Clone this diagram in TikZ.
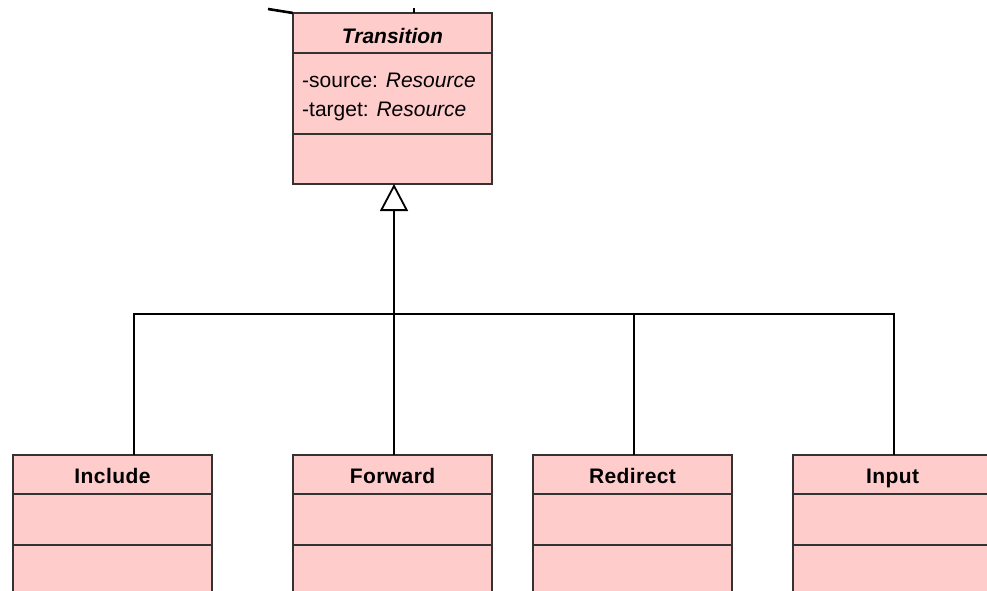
\documentclass[tikz,border=0pt]{standalone}
\usepackage{fontspec}
\setmainfont{Liberation Sans}
\usetikzlibrary{arrows.meta,calc}
\definecolor{classfill}{HTML}{FFCCCC}
\definecolor{classline}{HTML}{333333}
\tikzset{
  classbox/.style={draw=classline, fill=classfill, line width=2pt, anchor=north west,
    minimum width=199pt, inner sep=0pt, outer sep=0pt},
  sep/.style={draw=classline, line width=2pt},
  conn/.style={draw=black, line width=1.8pt},
  gen/.style={conn, -{Triangle[open, length=27pt, width=28pt, line width=1.8pt]}},
  title/.style={font=\fontsize{21}{24}\selectfont\bfseries\addfontfeature{LetterSpace=2},
    inner sep=0pt, anchor=base},
  attr/.style={font=\fontsize{21}{24}\selectfont, inner sep=0pt, anchor=base west}
}
\begin{document}
\begin{tikzpicture}[x=1pt, y=-1pt]
\useasboundingbox (0,0) rectangle (987,590);
\clip (0,0) rectangle (987,590);
\fill[white] (0,0) rectangle (987,590);

% abstract parent class
\node[classbox, minimum height=171pt] (trans) at (293,13) {};
\draw[sep] ($(trans.north west)+(0,40)$) -- ($(trans.north east)+(0,40)$);
\draw[sep] ($(trans.north west)+(0,121)$) -- ($(trans.north east)+(0,121)$);
\node[title, font=\fontsize{21}{24}\selectfont\bfseries\itshape]
  (transname) at ($(trans.north)+(0,30)$) {Transition};
\node[attr] (srcattr) at ($(trans.north west)+(9,74)$) {-source: \textit{Resource}};
\node[attr] (tgtattr) at ($(trans.north west)+(9,103)$) {-target: \textit{Resource}};

% connector ends coming from outside the view
\coordinate (offleft) at (268,9);
\draw[draw=black, line width=2.6pt] (offleft) -- (trans.north west);
\coordinate (offtop) at (414,8);
\draw[conn, line width=2.2pt] (offtop) -- (offtop |- trans.north);

% subclasses
\foreach \nm/\x/\txt in {inc/13/Include, fwd/293/Forward, red/533/Redirect, inp/793/Input}{
  \node[classbox, minimum height=200pt] (\nm) at (\x,455) {};
  \draw[sep] ($(\nm.north west)+(0,39)$) -- ($(\nm.north east)+(0,39)$);
  \draw[sep] ($(\nm.north west)+(0,90)$) -- ($(\nm.north east)+(0,90)$);
  \node[title] (\nm name) at ($(\nm.north)+(0,28)$) {\txt};
}

% attachment points of the generalization tree
\coordinate (parentpt) at ($(trans.south)+(1.5,0)$);
\coordinate (incpt) at ($(inc.north west)+(121,0)$);
\coordinate (fwdpt) at ($(fwd.north west)+(101,0)$);
\coordinate (redpt) at ($(red.north west)+(101,0)$);
\coordinate (inppt) at ($(inp.north west)+(101,0)$);
\coordinate (join) at (parentpt |- 0,314);

% generalization tree
\draw[conn] (incpt) |- (join);
\draw[conn] (redpt) |- (join);
\draw[conn] (inppt) |- (join);
\draw[gen] (fwdpt) -- (parentpt);
\end{tikzpicture}
\end{document}
